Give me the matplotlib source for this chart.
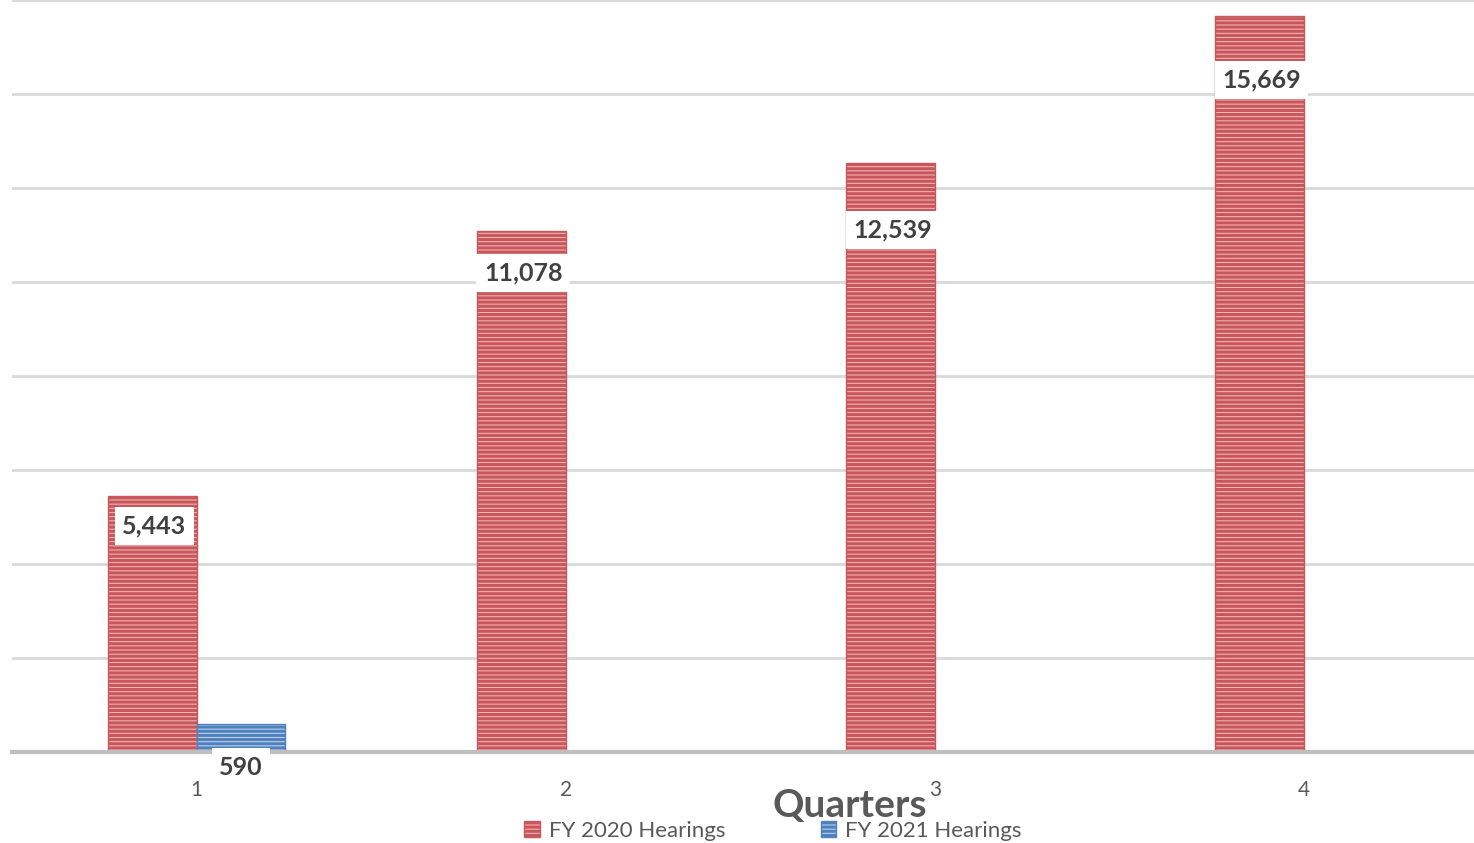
import matplotlib
matplotlib.use("Agg")
import matplotlib.pyplot as plt
from matplotlib.patches import Patch
import numpy as np

quarters = ["1", "2", "3", "4"]
fy2020 = [5443, 11078, 12539, 15669]
fy2021 = [590, None, None, None]
series_names = ["FY 2020 Hearings", "FY 2021 Hearings"]

plt.rcParams["font.family"] = ["Lato", "DejaVu Sans"]
plt.rcParams["hatch.linewidth"] = 2.2

red_edge = "#c9565a"
red_face = "#eeb3b5"
blue_edge = "#4f81bd"
blue_face = "#bcd0ea"

fig = plt.figure(figsize=(14.74, 8.43), dpi=100)
ax = fig.add_axes([12 / 1474, 1 - 752 / 843, 1 - 12 / 1474, 752 / 843])

x = np.arange(len(quarters))
w = 0.24
ax.bar(x - w / 2, fy2020, w, color=red_face, edgecolor=red_edge, hatch="----", linewidth=1, zorder=3)
x21 = [xi for xi, v in zip(x, fy2021) if v is not None]
v21 = [v for v in fy2021 if v is not None]
ax.bar(np.array(x21) + w / 2, v21, w, color=blue_face, edgecolor=blue_edge, hatch="----", linewidth=1, zorder=3)

# data labels: offset below bar top in pixels
px = 16000 / 752
offs = [30, 42, 67, 64]
for xi, v, o in zip(x, fy2020, offs):
    ax.text(xi - w / 2 + 0.005, v - o * px, f"{v:,}", ha="center", va="center", fontsize=18,
            fontweight="bold", color="#404040", zorder=5,
            bbox=dict(boxstyle="square,pad=0.3", fc="white", ec="none"))
for xi, v in zip(x21, v21):
    ax.text(xi + w / 2, v - 43 * px, f"{v:,}", ha="center", va="center", fontsize=18,
            fontweight="bold", color="#404040", zorder=5,
            bbox=dict(boxstyle="square,pad=0.3", fc="white", ec="none"))

ax.set_xlim(-0.5, (1474 - 197) / 369)
ax.set_ylim(0, 16000)
ax.set_yticks(np.arange(0, 16001, 2000))
ax.set_yticklabels([])
ax.tick_params(axis="y", length=0)
ax.set_xticks(x)
ax.set_xticklabels(quarters, fontsize=15, color="#595959")
ax.tick_params(axis="x", length=0, pad=20)
ax.grid(axis="y", color="#d9d9d9", linewidth=2, zorder=0)
for s in ["top", "right", "left"]:
    ax.spines[s].set_visible(False)
ax.spines["bottom"].set_color("#bfbfbf")
ax.spines["bottom"].set_linewidth(3)
ax.spines["bottom"].set_zorder(4)

ax.set_xlabel("Quarters", fontsize=28, fontweight="bold", color="#595959", va="center")
ax.xaxis.set_label_coords((850 - 12) / 1462, (752 - 805) / 752)

handles = [Patch(facecolor=red_face, edgecolor=red_edge, hatch="----"),
           Patch(facecolor=blue_face, edgecolor=blue_edge, hatch="----")]
leg = ax.legend(handles, series_names, loc="center", bbox_to_anchor=((773 - 12) / 1462, (752 - 831) / 752),
                ncol=2, frameon=False, fontsize=16, columnspacing=4.3, handlelength=0.7,
                handleheight=0.7, handletextpad=0.4, borderpad=0)
for t in leg.get_texts():
    t.set_color("#595959")

fig.savefig("out.png", dpi=100)
